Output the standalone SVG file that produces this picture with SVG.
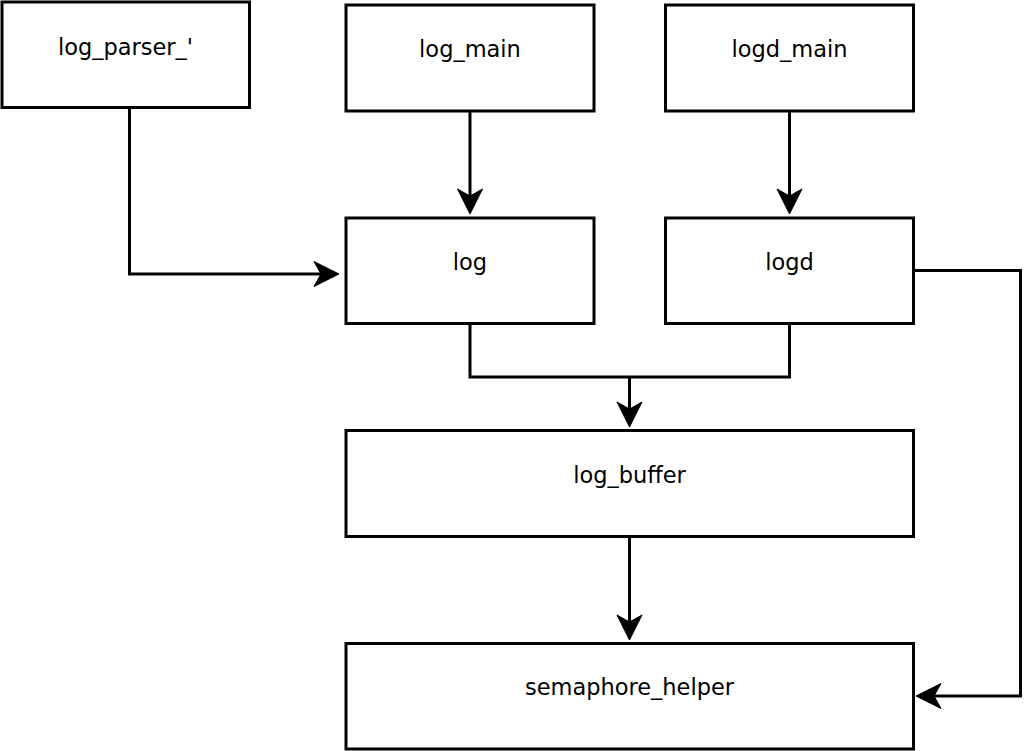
<svg xmlns="http://www.w3.org/2000/svg" width="1024" height="751" viewBox="0 0 1024 751">
<style>
.box{fill:#fff;stroke:#000;stroke-width:3}
.lbl{font-family:"DejaVu Sans",sans-serif;font-size:22.5px;fill:#000;text-anchor:middle}
.edge{fill:none;stroke:#000;stroke-width:3}
</style>
<defs>
<marker id="arr" markerUnits="userSpaceOnUse" markerWidth="30" markerHeight="30" refX="0" refY="0" orient="auto" overflow="visible">
<path d="M-21,-12.5 L4,0 L-21,12.5 L-14,0 Z" fill="#000" stroke="#000" stroke-width="1" stroke-linejoin="miter"/>
</marker>
</defs>
<rect width="1024" height="751" fill="#fff"/>
<g id="connectors">
<path class="edge" d="M129.5,107 V274 H335" marker-end="url(#arr)"/>
<path class="edge" d="M470,111 V210" marker-end="url(#arr)"/>
<path class="edge" d="M789.5,111 V210" marker-end="url(#arr)"/>
<path class="edge" d="M470,323 V377 H789.5 V323"/>
<path class="edge" d="M629.5,377 V423" marker-end="url(#arr)"/>
<path class="edge" d="M629.5,536 V636" marker-end="url(#arr)"/>
<path class="edge" d="M913,270.5 H1020.5 V696 H920" marker-end="url(#arr)"/>
</g>
<g id="log_parser"><rect class="box" x="2" y="2" width="247.5" height="105.5"/><text class="lbl" x="125.5" y="55">log_parser_'</text></g>
<g id="log_main"><rect class="box" x="346" y="5" width="248" height="106"/><text class="lbl" x="470" y="57">log_main</text></g>
<g id="logd_main"><rect class="box" x="665.5" y="5" width="248" height="106"/><text class="lbl" x="789.5" y="57">logd_main</text></g>
<g id="log"><rect class="box" x="346" y="218" width="248" height="105.5"/><text class="lbl" x="470" y="270">log</text></g>
<g id="logd"><rect class="box" x="665.5" y="218" width="248" height="105.5"/><text class="lbl" x="789.5" y="270">logd</text></g>
<g id="log_buffer"><rect class="box" x="346" y="430.5" width="567.5" height="106"/><text class="lbl" x="629.5" y="483">log_buffer</text></g>
<g id="semaphore_helper"><rect class="box" x="346" y="643.5" width="567.5" height="105.5"/><text class="lbl" x="629.5" y="695">semaphore_helper</text></g>
</svg>
